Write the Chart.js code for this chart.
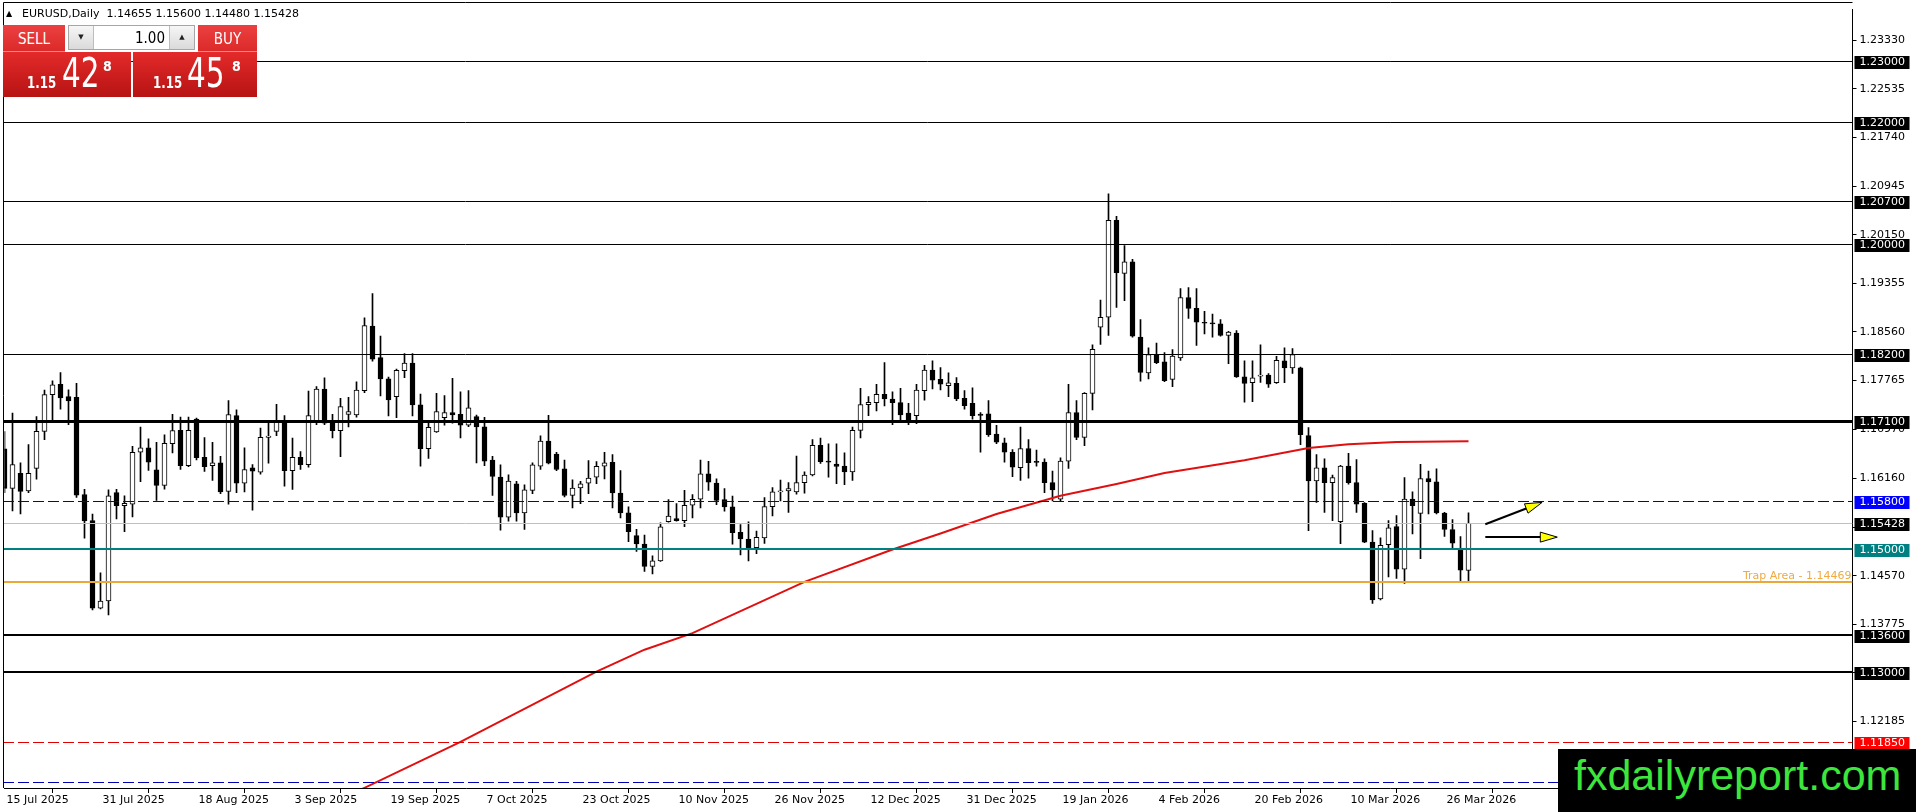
<!DOCTYPE html>
<html>
<head>
<meta charset="utf-8">
<title>EURUSD, Daily</title>
<script src="https://cdn.jsdelivr.net/npm/chart.js@4.4.1/dist/chart.umd.min.js"></script>
<style>
  html, body { margin: 0; padding: 0; background: #fff; }
  #wrap { position: relative; width: 1916px; height: 812px; overflow: hidden; background: #fff; }
  #chart { position: absolute; left: 0; top: 0; }
  .abs { position: absolute; }
  #title { left: 6px; top: 8px; font: 11px/11px 'DejaVu Sans', sans-serif; color: #000; white-space: nowrap; }
  #title .tri { display: inline-block; width: 16px; font-size: 8px; vertical-align: 1px; }
  .btn { top: 25px; height: 26px; color: #fff; text-align: center;
         font: 15px/15px 'Liberation Sans Narrow', 'DejaVu Sans Condensed', sans-serif;
         background: linear-gradient(#ec4040, #dc2a2a); border-bottom: 1px solid #f38a8a; }
  .btn span { position: relative; top: 7px; }
  #sell { left: 3px; width: 62px; }
  #buy { left: 198px; width: 59px; }
  #lot { left: 68px; top: 25px; width: 125px; height: 23px; border: 1px solid #a6a6a6; background: #fff; }
  .arr { position: absolute; top: 0; width: 24px; height: 23px; background: linear-gradient(#f6f6f6, #dadada);
         font: 7px/23px 'DejaVu Sans', sans-serif; text-align: center; color: #222; }
  #lot .dn { left: 0; border-right: 1px solid #bdbdbd; }
  #lot .up { right: 0; border-left: 1px solid #bdbdbd; }
  #lot .val { position: absolute; right: 29px; top: 5px; font: 15px/15px 'Liberation Sans Narrow', 'DejaVu Sans Condensed', sans-serif; color: #000; }
  .price { top: 52px; height: 45px; background: linear-gradient(#e42a2a, #b71313); color: #fff; }
  #sellPx { left: 3px; width: 128px; }
  #buyPx { left: 133px; width: 124px; }
  .price span { position: absolute; white-space: nowrap; font-family: 'Liberation Sans Narrow', 'DejaVu Sans Condensed', sans-serif; transform-origin: 0 0; }
  .price .big { top: 1px; font-size: 41px; line-height: 41px; transform: scaleX(0.8); }
  .price .small { top: 23px; font-size: 16px; line-height: 16px; font-weight: bold; transform: scaleX(0.82); }
  .price .sup { top: 7px; font-size: 14px; line-height: 14px; font-weight: bold; }
  #mark { left: 1558px; top: 749px; width: 358px; height: 63px; background: #000; }
  #mark span { position: absolute; left: 16px; top: 5px; font: 43px/43px 'Liberation Sans', sans-serif; color: #3ce63c; white-space: nowrap; }
</style>
</head>
<body>
<div id="wrap">
  <canvas id="chart" width="1916" height="812"></canvas>
  <div id="title" class="abs"><span class="tri">▲</span>EURUSD,Daily&nbsp; 1.14655 1.15600 1.14480 1.15428</div>
  <div id="sell" class="abs btn"><span>SELL</span></div>
  <div id="lot" class="abs"><div class="arr dn">▼</div><div class="val">1.00</div><div class="arr up">▲</div></div>
  <div id="buy" class="abs btn"><span>BUY</span></div>
  <div id="sellPx" class="abs price"><span class="small" style="left:24px">1.15</span><span class="big" style="left:59px">42</span><span class="sup" style="left:100px">8</span></div>
  <div id="buyPx" class="abs price"><span class="small" style="left:20px">1.15</span><span class="big" style="left:54px">45</span><span class="sup" style="left:99px">8</span></div>
  <div id="mark" class="abs"><span>fxdailyreport.com</span></div>
</div>
<script>
// Дневные свечи EURUSD: 15 Jul 2025 - 31 Mar 2026
const opens = [
  1.16646, 1.1600, 1.16245, 1.15958, 1.16326, 1.16932, 1.17533, 1.177, 1.1750, 1.1749,
  1.15899, 1.15472, 1.14038, 1.14157, 1.15931, 1.15715, 1.15742, 1.16591, 1.16662, 1.16302,
  1.16048, 1.16732, 1.16951, 1.16372, 1.17132, 1.16508, 1.16372, 1.16416, 1.1595, 1.17192,
  1.16086, 1.16335, 1.16264, 1.16835, 1.16932, 1.17095, 1.16291, 1.16508, 1.16389, 1.17105,
  1.17625, 1.17095, 1.16943, 1.17211, 1.1720, 1.17598, 1.18653, 1.18139, 1.1779, 1.1750,
  1.17925, 1.1805, 1.17365, 1.16651, 1.16924, 1.17157, 1.17238, 1.17211, 1.17032, 1.17173,
  1.17005, 1.16464, 1.16183, 1.15528, 1.16075, 1.15599, 1.15967, 1.16362, 1.16773, 1.16562,
  1.16318, 1.15886, 1.16005, 1.16086, 1.16183, 1.16362, 1.16427, 1.15923, 1.15599, 1.15226,
  1.1509, 1.14722, 1.14814, 1.15455, 1.15507, 1.15469, 1.15723, 1.15821, 1.16237, 1.16086,
  1.15815, 1.15696, 1.1528, 1.15171, 1.1503, 1.1519, 1.15699, 1.15942, 1.15958, 1.15942,
  1.16094, 1.16218, 1.16705, 1.16445, 1.16397, 1.16364, 1.16267, 1.16949, 1.1737, 1.17403,
  1.17538, 1.17462, 1.17403, 1.1723, 1.17187, 1.17598, 1.17933, 1.17782, 1.17679, 1.17717,
  1.17473, 1.17392, 1.17214, 1.17219, 1.16889, 1.16743, 1.16591, 1.16337, 1.16651, 1.16435,
  1.16429, 1.16094, 1.15823, 1.16445, 1.17241, 1.16835, 1.17554, 1.18636, 1.18799, 1.20384,
  1.19518, 1.19708, 1.18474, 1.1789, 1.18187, 1.18068, 1.17782, 1.18133, 1.19123, 1.18945,
  1.18718, 1.18707, 1.18691, 1.18501, 1.18539, 1.17825, 1.17728, 1.17836, 1.17852, 1.17728,
  1.18085, 1.17971, 1.17971, 1.16862, 1.16121, 1.16337, 1.16094, 1.15455, 1.16364, 1.16094,
  1.15753, 1.1512, 1.1419, 1.15077, 1.15374, 1.14676, 1.15823, 1.15591, 1.16159, 1.16105,
  1.15596, 1.15326, 1.15012, 1.14655
];
const highs = [
  1.1693, 1.1723, 1.16418, 1.16716, 1.17176, 1.17609, 1.1776, 1.17895, 1.1761, 1.17717,
  1.15985, 1.1558, 1.14617, 1.15975, 1.15985, 1.15877, 1.16689, 1.17003, 1.16808, 1.16754,
  1.16876, 1.17211, 1.17165, 1.17165, 1.17149, 1.16832, 1.16754, 1.16524, 1.17435, 1.17284,
  1.16662, 1.16389, 1.16986, 1.17095, 1.17376, 1.17192, 1.16824, 1.166, 1.17592, 1.17663,
  1.17809, 1.17211, 1.17473, 1.1749, 1.17744, 1.18788, 1.19188, 1.1849, 1.17822, 1.17952,
  1.18204, 1.18204, 1.17544, 1.17078, 1.17554, 1.17519, 1.17798, 1.17581, 1.17598, 1.172,
  1.1716, 1.16524, 1.16383, 1.16221, 1.16113, 1.16059, 1.16416, 1.1686, 1.17195, 1.16589,
  1.16464, 1.1614, 1.16113, 1.16454, 1.16437, 1.16589, 1.16551, 1.16291, 1.15696, 1.15328,
  1.15236, 1.14895, 1.15437, 1.15815, 1.1575, 1.15967, 1.15896, 1.16464, 1.16443, 1.16156,
  1.15994, 1.15875, 1.15409, 1.15453, 1.1530, 1.1585, 1.16013, 1.16137, 1.16094, 1.16527,
  1.16272, 1.16797, 1.16824, 1.16727, 1.16727, 1.16581, 1.17003, 1.17636, 1.175, 1.17701,
  1.18058, 1.17581, 1.17636, 1.17392, 1.17701, 1.18014, 1.18085, 1.17976, 1.1789, 1.17814,
  1.17598, 1.17646, 1.1724, 1.17435, 1.1703, 1.16824, 1.16635, 1.17003, 1.16797, 1.16624,
  1.16483, 1.16283, 1.165, 1.17701, 1.17435, 1.17565, 1.1835, 1.1908, 1.20817, 1.20449,
  1.19973, 1.19745, 1.18761, 1.18301, 1.18377, 1.1822, 1.18269, 1.19269, 1.19286, 1.19269,
  1.18896, 1.18853, 1.18761, 1.1857, 1.18582, 1.18085, 1.18085, 1.1835, 1.17879, 1.1816,
  1.18301, 1.18285, 1.17985, 1.16995, 1.16554, 1.16483, 1.16218, 1.16375, 1.16573, 1.16472,
  1.15769, 1.15309, 1.1519, 1.15472, 1.15553, 1.16175, 1.15942, 1.16391, 1.16283, 1.16321,
  1.15607, 1.15488, 1.15212, 1.156
];
const lows = [
  1.15931, 1.1563, 1.1558, 1.15931, 1.16148, 1.16797, 1.17111, 1.17295, 1.1704, 1.1585,
  1.15185, 1.1401, 1.14027, 1.1393, 1.15499, 1.15293, 1.15534, 1.1611, 1.16294, 1.15804,
  1.15985, 1.16578, 1.1631, 1.16356, 1.16464, 1.16275, 1.16129, 1.15913, 1.15739, 1.15929,
  1.1594, 1.15642, 1.1623, 1.1641, 1.16862, 1.16037, 1.15983, 1.1631, 1.16345, 1.1704,
  1.1704, 1.16824, 1.16519, 1.17003, 1.17165, 1.17565, 1.18079, 1.17511, 1.17184, 1.17157,
  1.17809, 1.17184, 1.16362, 1.16491, 1.16913, 1.17032, 1.17065, 1.16824, 1.17011, 1.16416,
  1.16372, 1.15886, 1.15317, 1.15464, 1.15464, 1.15328, 1.15913, 1.16308, 1.164, 1.16291,
  1.15858, 1.1568, 1.1575, 1.15913, 1.16075, 1.16156, 1.1568, 1.15518, 1.15128, 1.14966,
  1.14641, 1.14598, 1.14803, 1.15445, 1.15464, 1.15372, 1.15518, 1.1568, 1.15967, 1.15734,
  1.15626, 1.15085, 1.14912, 1.14814, 1.1493, 1.1510, 1.1555, 1.15796, 1.15607, 1.15904,
  1.1592, 1.16202, 1.16408, 1.16183, 1.16075, 1.16059, 1.16129, 1.16824, 1.17187, 1.17268,
  1.17349, 1.1704, 1.17078, 1.1704, 1.17057, 1.17444, 1.17628, 1.17609, 1.175, 1.17435,
  1.17295, 1.17132, 1.16591, 1.16851, 1.16732, 1.16429, 1.16191, 1.16129, 1.16167, 1.16364,
  1.15931, 1.15796, 1.1578, 1.16326, 1.16797, 1.167, 1.17284, 1.18355, 1.18501, 1.18961,
  1.19069, 1.18474, 1.17755, 1.1779, 1.18041, 1.17744, 1.17663, 1.18095, 1.1878, 1.18339,
  1.18528, 1.18474, 1.1849, 1.18041, 1.17814, 1.17408, 1.17419, 1.17733, 1.17652, 1.17715,
  1.17728, 1.17879, 1.16716, 1.15309, 1.15769, 1.15607, 1.15472, 1.15093, 1.16067, 1.15607,
  1.15109, 1.14119, 1.14173, 1.14552, 1.14525, 1.14444, 1.15255, 1.14849, 1.1558, 1.1558,
  1.15212, 1.15023, 1.14455, 1.1448
];
const closes = [
  1.1600, 1.1639, 1.15948, 1.16245, 1.16932, 1.17533, 1.17695, 1.17479, 1.1743, 1.15888,
  1.15466, 1.14038, 1.14157, 1.15877, 1.15715, 1.15753, 1.16591, 1.16662, 1.16429, 1.16048,
  1.16738, 1.16946, 1.16372, 1.16951, 1.16502, 1.16356, 1.16416, 1.1594, 1.17208, 1.16086,
  1.16308, 1.1628, 1.16835, 1.16857, 1.17105, 1.16291, 1.16508, 1.16389, 1.17192, 1.17625,
  1.17068, 1.16943, 1.17338, 1.17254, 1.17609, 1.18663, 1.18112, 1.1779, 1.17446, 1.17931,
  1.1805, 1.17365, 1.16651, 1.16997, 1.17257, 1.17238, 1.172, 1.17032, 1.17319, 1.17005,
  1.16443, 1.16194, 1.15528, 1.16118, 1.15599, 1.15977, 1.16383, 1.16773, 1.1641, 1.16308,
  1.15886, 1.16005, 1.16075, 1.16167, 1.16362, 1.16416, 1.15923, 1.15599, 1.1529, 1.1509,
  1.14722, 1.14814, 1.15372, 1.15545, 1.15469, 1.15723, 1.15821, 1.16237, 1.16102, 1.15804,
  1.15696, 1.15274, 1.15171, 1.15031, 1.1520, 1.1570, 1.15942, 1.15958, 1.15996, 1.16094,
  1.16218, 1.16705, 1.16435, 1.16429, 1.16359, 1.16267, 1.16949, 1.1737, 1.17408, 1.17538,
  1.17462, 1.17403, 1.17203, 1.17078, 1.17609, 1.17933, 1.17771, 1.17706, 1.17728, 1.17462,
  1.17354, 1.17187, 1.17192, 1.16878, 1.16754, 1.16591, 1.16348, 1.16651, 1.16418, 1.16424,
  1.16094, 1.15975, 1.16445, 1.17241, 1.16835, 1.17554, 1.18274, 1.18799, 1.20384, 1.19529,
  1.19708, 1.1849, 1.17895, 1.18187, 1.18058, 1.1776, 1.18166, 1.19123, 1.18945, 1.18718,
  1.18701, 1.18691, 1.18501, 1.18555, 1.17825, 1.17717, 1.17809, 1.17852, 1.17706, 1.18095,
  1.17971, 1.18187, 1.16878, 1.16121, 1.16337, 1.16094, 1.16175, 1.16364, 1.16094, 1.15742,
  1.1512, 1.14173, 1.15066, 1.15353, 1.14676, 1.15823, 1.15715, 1.16159, 1.16105, 1.15596,
  1.15326, 1.15104, 1.1466, 1.15428
];

const maBars   = [38, 45, 57, 74, 80, 86, 100, 111, 117, 124, 132, 139, 145, 155, 163, 168, 174, 183];
const maValues = [1.1068, 1.1110, 1.1185, 1.1300, 1.1336, 1.1363, 1.1447, 1.1500, 1.1526, 1.1558,
                  1.1588, 1.1607, 1.1625, 1.1646, 1.1666, 1.1672, 1.1676, 1.1677];

// Горизонтальные уровни
const blackLevels = [1.23, 1.22, 1.207, 1.20, 1.182, 1.171, 1.136, 1.13];
const blueLevels = [1.158, 1.112];
const tealLevel = 1.15;
const redLevel = 1.1185;
const trapLevel = 1.14469;
const bidPrice = 1.15428;

// Стрелки: [бар, цена] начала и конца
const arrowFrom = [[185.1, 1.15413], [185.1, 1.15202]];
const arrowTo   = [[192.2, 1.15770], [194.1, 1.15202]];

// Подписи шкалы цен
const yTickValues = [1.2333, 1.22535, 1.2174, 1.20945, 1.2015, 1.19355, 1.1856, 1.17765,
                     1.1697, 1.1616, 1.15365, 1.1457, 1.13775, 1.1298, 1.12185];
const yMin = 1.11097, yMax = 1.23833;
const futureBars = 48;

// Даты торговых дней (без выходных и праздников)
const monthNames = ['Jan', 'Feb', 'Mar', 'Apr', 'May', 'Jun', 'Jul', 'Aug', 'Sep', 'Oct', 'Nov', 'Dec'];
const holidays = ['2025-12-25', '2026-01-01'];
const barDates = [];
for (let d = new Date(Date.UTC(2025, 6, 15)); barDates.length < opens.length; d.setUTCDate(d.getUTCDate() + 1)) {
    const wd = d.getUTCDay();
    if (wd === 0 || wd === 6 || holidays.includes(d.toISOString().slice(0, 10))) continue;
    barDates.push(d.getUTCDate() + ' ' + monthNames[d.getUTCMonth()] + ' ' + d.getUTCFullYear());
}

const nBars = opens.length;
const labels = barDates.concat(Array(futureBars).fill(''));
const wickData = highs.map((h, i) => [lows[i], h]);
const bodyData = opens.map((o, i) => [o, closes[i]]);
const bodyColors = opens.map((o, i) => closes[i] >= o ? '#ffffff' : '#000000');
const maData = labels.map(() => null);
maBars.forEach((b, k) => { maData[b] = maValues[k]; });

const FONT = { family: 'DejaVu Sans', size: 11 };

// Линии уровней и стрелки поверх свечей
const levelsPlugin = {
    id: 'levels',
    afterDatasetsDraw(chart) {
        const { ctx, chartArea: a, scales: { x, y } } = chart;
        ctx.save();
        ctx.beginPath();
        ctx.rect(a.left - 1.5, a.top, a.right - a.left + 1.5, a.bottom - a.top);
        ctx.clip();
        const line = (price, color, width, dash) => {
            const py = Math.round(y.getPixelForValue(price)) + (width % 2 ? 0.5 : 0);
            ctx.strokeStyle = color;
            ctx.lineWidth = width;
            ctx.setLineDash(dash || []);
            ctx.beginPath();
            ctx.moveTo(a.left - 1.5, py);
            ctx.lineTo(a.right, py);
            ctx.stroke();
        };
        line(bidPrice, '#c0c0c0', 1);
        blackLevels.forEach(p => line(p, '#000', p === 1.171 ? 3 : (p === 1.136 || p === 1.13 ? 2 : 1)));
        blueLevels.forEach(p => line(p, '#0000b4', 1, [11, 4]));
        line(redLevel, '#e00000', 1, [11, 4]);
        line(tealLevel, '#008080', 2);
        line(trapLevel, '#eaa83a', 2);
        ctx.setLineDash([]);

        ctx.font = '11px "DejaVu Sans"';
        ctx.fillStyle = '#f0aa40';
        ctx.textAlign = 'right';
        ctx.textBaseline = 'alphabetic';
        ctx.fillText('Trap Area - ' + trapLevel.toFixed(5), a.right - 1, y.getPixelForValue(trapLevel) - 3);

        // стрелки
        arrowFrom.forEach((from, k) => {
            const x0 = x.getPixelForValue(from[0]), y0 = y.getPixelForValue(from[1]);
            const x1 = x.getPixelForValue(arrowTo[k][0]), y1 = y.getPixelForValue(arrowTo[k][1]);
            const ang = Math.atan2(y1 - y0, x1 - x0);
            const len = 17, half = 5;
            const bx = x1 - len * Math.cos(ang), by = y1 - len * Math.sin(ang);
            ctx.strokeStyle = '#000';
            ctx.lineWidth = 2;
            ctx.beginPath();
            ctx.moveTo(x0, y0);
            ctx.lineTo(bx, by);
            ctx.stroke();
            ctx.beginPath();
            ctx.moveTo(x1, y1);
            ctx.lineTo(bx + half * Math.sin(ang), by - half * Math.cos(ang));
            ctx.lineTo(bx - half * Math.sin(ang), by + half * Math.cos(ang));
            ctx.closePath();
            ctx.fillStyle = '#ffff00';
            ctx.fill();
            ctx.lineWidth = 1;
            ctx.stroke();
        });
        ctx.restore();
    },
    afterDraw(chart) {
        const { ctx, chartArea: a, scales: { y } } = chart;
        ctx.save();
        // рамка графика
        ctx.strokeStyle = '#000';
        ctx.lineWidth = 1;
        ctx.beginPath();
        ctx.moveTo(3.5, a.bottom);
        ctx.lineTo(3.5, 2.5);
        ctx.lineTo(a.right, 2.5);
        ctx.stroke();
        // плашки цен уровней
        const tag = (price, bg) => {
            const py = Math.round(y.getPixelForValue(price));
            ctx.fillStyle = bg;
            ctx.fillRect(a.right + 2, py - 5, 55, 13);
            ctx.fillStyle = '#fff';
            ctx.font = '11px "DejaVu Sans"';
            ctx.textAlign = 'left';
            ctx.textBaseline = 'middle';
            ctx.fillText(price.toFixed(5), a.right + 7, py + 1.5);
        };
        blackLevels.forEach(p => tag(p, '#000'));
        tag(blueLevels[0], '#0000ff');
        tag(bidPrice, '#000');
        tag(tealLevel, '#008080');
        tag(redLevel, '#ff0000');
        ctx.restore();
    }
};

new Chart(document.getElementById('chart'), {
    data: {
        labels: labels,
        datasets: [
            {
                type: 'line',
                data: maData,
                borderColor: '#e01010',
                borderWidth: 2,
                pointRadius: 0,
                spanGaps: true,
                tension: 0,
                clip: 0,
                order: 0
            },
            {
                type: 'bar',
                data: bodyData,
                backgroundColor: bodyColors,
                borderColor: '#000',
                borderWidth: 1,
                borderSkipped: false,
                barThickness: 5,
                minBarLength: 1,
                grouped: false,
                order: 1
            },
            {
                type: 'bar',
                data: wickData,
                backgroundColor: '#000',
                borderWidth: 0,
                barThickness: 1,
                grouped: false,
                order: 2
            }
        ]
    },
    options: {
        responsive: false,
        animation: false,
        devicePixelRatio: 1,
        events: [],
        layout: { padding: { left: 4.5, top: 3, right: 0, bottom: 0 } },
        plugins: {
            legend: { display: false },
            tooltip: { enabled: false }
        },
        scales: {
            x: {
                type: 'category',
                offset: false,
                grid: { display: true, drawOnChartArea: false, drawTicks: true, tickLength: 5, color: '#000' },
                border: { display: true, color: '#000', width: 1 },
                ticks: {
                    autoSkip: false,
                    maxRotation: 0,
                    minRotation: 0,
                    align: 'start',
                    labelOffset: 2,
                    padding: 1,
                    color: '#000',
                    font: FONT,
                    callback(v) { return this.getLabelForValue(v); }
                },
                afterBuildTicks(scale) {
                    scale.ticks = scale.ticks.filter(t => t.value % 12 === 0 && t.value < nBars);
                },
                afterFit(scale) { scale.height = 24; }
            },
            y: {
                position: 'right',
                min: yMin,
                max: yMax,
                grid: { display: true, drawOnChartArea: false, drawTicks: true, tickLength: 4, color: '#000' },
                border: { display: true, color: '#000', width: 1 },
                ticks: {
                    padding: 3,
                    color: '#000',
                    font: FONT,
                    callback: v => Number(v).toFixed(5)
                },
                afterBuildTicks(scale) {
                    scale.ticks = yTickValues.map(v => ({ value: v }));
                },
                afterFit(scale) { scale.width = 63.5; }
            }
        }
    },
    plugins: [levelsPlugin]
});
</script>
</body>
</html>
